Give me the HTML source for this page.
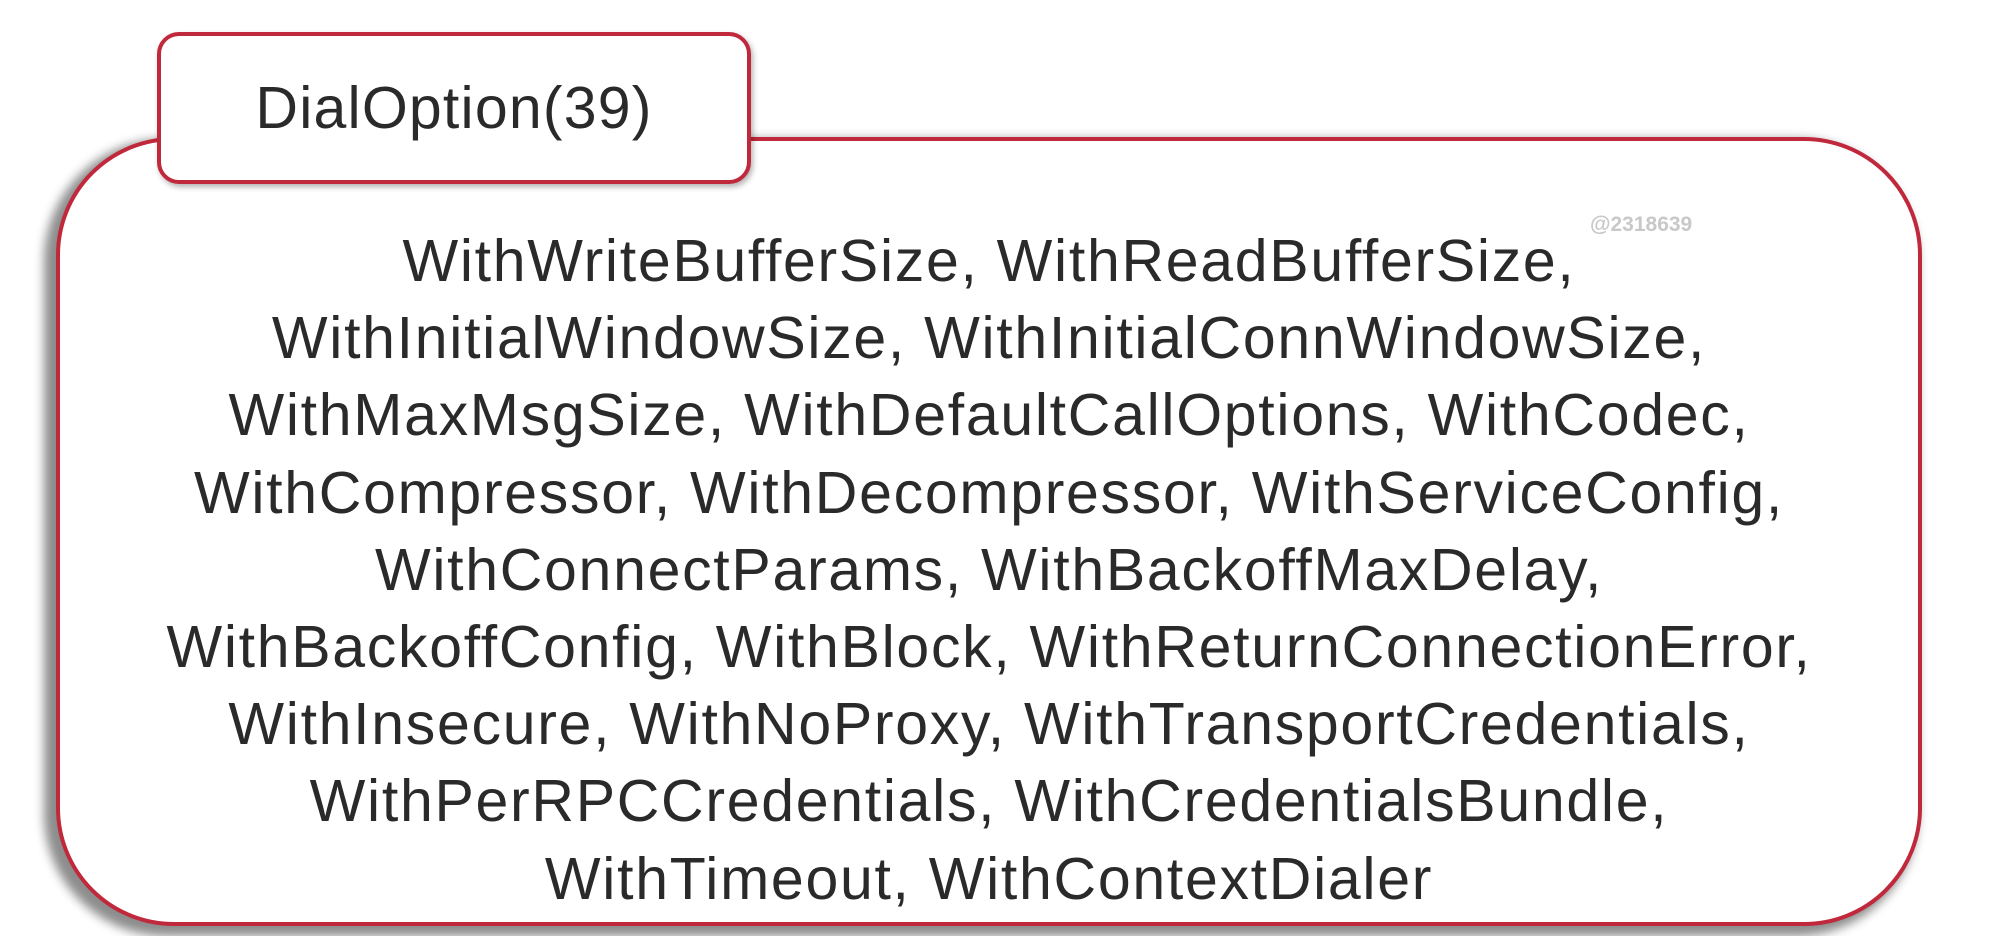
<!DOCTYPE html>
<html><head><meta charset="utf-8"><style>
html,body{margin:0;padding:0;background:#fff;}
body{width:2016px;height:936px;position:relative;overflow:hidden;font-family:"Liberation Sans",sans-serif;}
.main{position:absolute;left:56px;top:137px;width:1866px;height:789px;border:4px solid #c0283c;border-radius:118px;background:#fff;box-shadow:-8px 6px 10px 4px rgba(0,0,0,0.45);box-sizing:border-box;}
.tab{position:absolute;left:157px;top:32px;width:594px;height:152px;border:4px solid #c0283c;border-radius:22px;background:#fff;box-sizing:border-box;box-shadow:2px 3px 6px rgba(0,0,0,0.3);text-align:center;line-height:144px;font-size:59px;color:#2a2a2a;letter-spacing:1.2px;}
.txt{position:absolute;left:56px;width:1866px;top:223px;text-align:center;font-size:59px;line-height:77.2px;color:#2a2a2a;letter-spacing:1.7px;white-space:nowrap;}
.wm{position:absolute;left:1590px;top:213px;font-size:21px;color:#c8c8c8;font-weight:bold;}
</style></head><body>
<div class="main"></div>
<div class="tab">DialOption(39)</div>
<div class="wm">@2318639</div>
<div class="txt">WithWriteBufferSize, WithReadBufferSize,<br>WithInitialWindowSize, WithInitialConnWindowSize,<br>WithMaxMsgSize, WithDefaultCallOptions, WithCodec,<br>WithCompressor, WithDecompressor, WithServiceConfig,<br>WithConnectParams, WithBackoffMaxDelay,<br>WithBackoffConfig, WithBlock, WithReturnConnectionError,<br>WithInsecure, WithNoProxy, WithTransportCredentials,<br>WithPerRPCCredentials, WithCredentialsBundle,<br>WithTimeout, WithContextDialer</div>
</body></html>
